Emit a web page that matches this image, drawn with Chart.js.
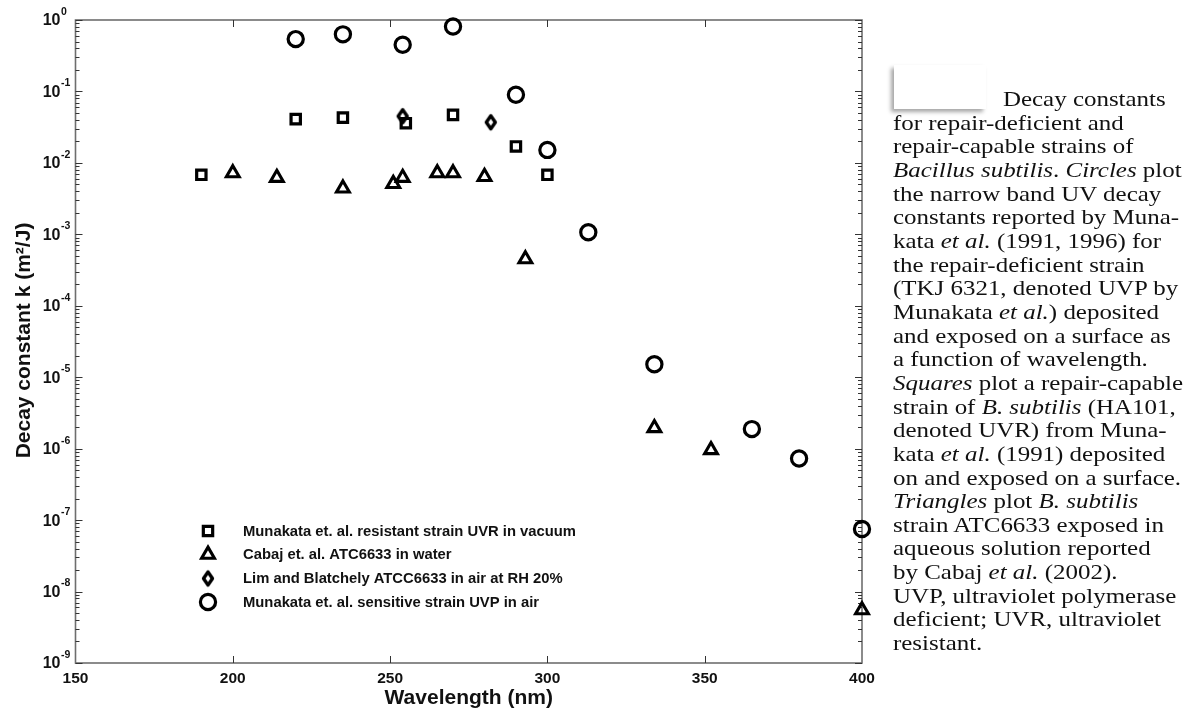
<!DOCTYPE html>
<html><head><meta charset="utf-8">
<script src="https://cdn.jsdelivr.net/npm/chart.js@4.4.0/dist/chart.umd.min.js"></script>
<style>
html,body{margin:0;padding:0;background:#fff;width:1199px;height:713px;overflow:hidden;}
#wrap{position:relative;width:1199px;height:713px;}
#c{position:absolute;left:0;top:0;}
#box{position:absolute;left:894px;top:65px;width:92px;height:44px;background:#fff;box-shadow:-3px 3px 4px rgba(0,0,0,0.35);}
#cap{position:absolute;left:893px;top:88px;font-family:"Liberation Serif","Times New Roman",serif;font-size:21.5px;line-height:23.65px;color:#111;white-space:nowrap;transform-origin:0 0;transform:scaleX(1.16);}
#cap .ind{display:inline-block;width:94.8px;}
</style></head>
<body><div id="wrap">
<canvas id="c" width="1199" height="713"></canvas>
<div id="box"></div>
<div id="cap"><span class="ind"></span>Decay constants<br>for repair-deficient and<br>repair-capable strains of<br><i>Bacillus subtilis</i>. <i>Circles</i> plot<br>the narrow band UV decay<br>constants reported by Muna-<br>kata <i>et al.</i> (1991, 1996) for<br>the repair-deficient strain<br>(TKJ 6321, denoted UVP by<br>Munakata <i>et al.</i>) deposited<br>and exposed on a surface as<br>a function of wavelength.<br><i>Squares</i> plot a repair-capable<br>strain of <i>B. subtilis</i> (HA101,<br>denoted UVR) from Muna-<br>kata <i>et al.</i> (1991) deposited<br>on and exposed on a surface.<br><i>Triangles</i> plot <i>B. subtilis</i><br>strain ATC6633 exposed in<br>aqueous solution reported<br>by Cabaj <i>et al.</i> (2002).<br>UVP, ultraviolet polymerase<br>deficient; UVR, ultraviolet<br>resistant.</div>
</div>
<script>
// ---- data ----
const seriesLabels = [
  'Munakata et. al. resistant strain UVR in vacuum',
  'Cabaj et. al. ATC6633 in water',
  'Lim and Blatchely ATCC6633 in air at RH 20%',
  'Munakata et. al. sensitive strain UVP in air'
];
const wavelengthsUVR = [190, 220, 235, 255, 270, 290, 300];
const decayUVR       = [0.0068, 0.041, 0.043, 0.036, 0.047, 0.017, 0.0068];
const wavelengthsCabaj = [200, 214, 235, 251, 254, 265, 270, 280, 293, 334, 352, 400];
const decayCabaj       = [0.0072, 0.0062, 0.0044, 0.0051, 0.0062, 0.0072, 0.0072, 0.0064, 0.00045, 1.95e-6, 9.6e-7, 5.5e-9];
const wavelengthsLim = [254, 282];
const decayLim       = [0.045, 0.037];
const wavelengthsUVP = [220, 235, 254, 270, 290, 300, 313, 334, 365, 380, 400];
const decayUVP       = [0.54, 0.63, 0.45, 0.81, 0.090, 0.0152, 0.00107, 1.52e-5, 1.88e-6, 7.3e-7, 7.5e-8];
const xTickValues = [150, 200, 250, 300, 350, 400];
const yTickExponents = [0, -1, -2, -3, -4, -5, -6, -7, -8, -9];
const xTitle = 'Wavelength (nm)';
const yTitle = 'Decay constant k (m\u00B2/J)';

// ---- styling helpers ----
function makeDiamond(w, h, lw) {
  const c = document.createElement('canvas');
  c.width = 20; c.height = 24;
  const g = c.getContext('2d');
  g.lineWidth = lw; g.strokeStyle = '#000'; g.fillStyle = 'rgba(0,0,0,0)'; g.lineJoin = 'round';
  const cx = c.width / 2, cy = c.height / 2;
  g.beginPath();
  g.moveTo(cx, cy - h / 2); g.lineTo(cx + w / 2, cy); g.lineTo(cx, cy + h / 2); g.lineTo(cx - w / 2, cy);
  g.closePath(); g.stroke();
  return c;
}
const diamond = makeDiamond(9, 13, 3.4);
const pts = (xs, ys) => xs.map((x, i) => ({x: x, y: ys[i]}));
const styles = [
  {pointStyle: 'rect', radius: 6.6, bw: 3.2},
  {pointStyle: 'triangle', radius: 7.4, bw: 3.1},
  {pointStyle: diamond, radius: 7, bw: 3},
  {pointStyle: 'circle', radius: 7.6, bw: 3.2}
];
const seriesData = [pts(wavelengthsUVR, decayUVR), pts(wavelengthsCabaj, decayCabaj), pts(wavelengthsLim, decayLim), pts(wavelengthsUVP, decayUVP)];

const datasets = seriesData.map((d, i) => ({
  label: seriesLabels[i],
  data: d,
  showLine: false,
  clip: false,
  pointStyle: styles[i].pointStyle,
  pointRadius: styles[i].radius,
  pointHoverRadius: styles[i].radius,
  pointBorderWidth: styles[i].bw,
  borderColor: '#000',
  backgroundColor: 'rgba(0,0,0,0)',
  pointBackgroundColor: 'rgba(0,0,0,0)'
}));

const SANS = '"Liberation Sans", Arial, Helvetica, sans-serif';

const axesPlugin = {
  id: 'axesPlugin',
  beforeDatasetsDraw(chart) {
    const {ctx, chartArea: a, scales: {x, y}} = chart;
    ctx.save();
    // frame
    ctx.strokeStyle = '#6e6e6e'; ctx.lineWidth = 1.6;
    ctx.strokeRect(a.left, a.top, a.right - a.left, a.bottom - a.top);
    // x ticks
    ctx.strokeStyle = '#333'; ctx.lineWidth = 1;
    xTickValues.forEach(v => {
      const px = Math.round(x.getPixelForValue(v)) + 0.5;
      if (v > x.min && v < x.max) {
        ctx.beginPath();
        ctx.moveTo(px, a.bottom); ctx.lineTo(px, a.bottom - 7);
        ctx.moveTo(px, a.top); ctx.lineTo(px, a.top + 7);
        ctx.stroke();
      }
    });
    // y ticks major + minor
    yTickExponents.forEach(e => {
      const py = Math.round(y.getPixelForValue(Math.pow(10, e))) + 0.5;
      ctx.beginPath();
      ctx.moveTo(a.left, py); ctx.lineTo(a.left + 7, py);
      ctx.moveTo(a.right, py); ctx.lineTo(a.right - 7, py);
      ctx.stroke();
      if (e < 0) {
        for (let m = 2; m <= 9; m++) {
          const pm = Math.round(y.getPixelForValue(m * Math.pow(10, e))) + 0.5;
          ctx.beginPath();
          ctx.moveTo(a.left, pm); ctx.lineTo(a.left + 4, pm);
          ctx.moveTo(a.right, pm); ctx.lineTo(a.right - 4, pm);
          ctx.stroke();
        }
      }
    });
    // x tick labels
    ctx.fillStyle = '#111';
    ctx.font = 'bold 15.5px ' + SANS;
    ctx.textAlign = 'center'; ctx.textBaseline = 'middle';
    xTickValues.forEach(v => ctx.fillText(String(v), x.getPixelForValue(v), a.bottom + 16));
    // y tick labels with superscript exponent
    yTickExponents.forEach(e => {
      const py = y.getPixelForValue(Math.pow(10, e));
      ctx.font = 'bold 16px ' + SANS;
      ctx.textAlign = 'right'; ctx.textBaseline = 'middle';
      ctx.fillText('10', a.left - 15, py + 1);
      ctx.font = 'bold 10.5px ' + SANS;
      ctx.textAlign = 'left'; ctx.textBaseline = 'middle';
      ctx.fillText(String(e), a.left - 14.5, py - 8);
    });
    // titles
    ctx.font = 'bold 21px ' + SANS;
    ctx.textAlign = 'center'; ctx.textBaseline = 'middle';
    ctx.fillText(xTitle, (a.left + a.right) / 2, a.bottom + 35);
    ctx.save();
    ctx.translate(24, (a.top + a.bottom) / 2 - 1);
    ctx.rotate(-Math.PI / 2);
    ctx.fillText(yTitle, 0, 0);
    ctx.restore();
    ctx.restore();
  },
  afterDatasetsDraw(chart) {
    const {ctx} = chart;
    const rowsY = [531, 554.5, 578.5, 602];
    ctx.save();
    chart.data.datasets.forEach((ds, i) => {
      const ry = rowsY[i];
      ctx.strokeStyle = '#000'; ctx.fillStyle = 'rgba(0,0,0,0)';
      ctx.lineWidth = ds.pointBorderWidth;
      Chart.helpers.drawPoint(ctx, {pointStyle: ds.pointStyle, radius: ds.pointRadius, rotation: 0, borderWidth: ds.pointBorderWidth}, 208, ry);
      ctx.fillStyle = '#111';
      ctx.font = 'bold 14.8px ' + SANS;
      ctx.textAlign = 'left'; ctx.textBaseline = 'middle';
      ctx.fillText(ds.label, 243, ry + 0.5);
    });
    ctx.restore();
  }
};

new Chart(document.getElementById('c'), {
  type: 'scatter',
  data: {datasets: datasets},
  options: {
    responsive: false,
    animation: false,
    devicePixelRatio: 1,
    layout: {padding: {left: 75.5, top: 20, right: 1199 - 862, bottom: 713 - 663}},
    plugins: {legend: {display: false}, tooltip: {enabled: false}},
    scales: {
      x: {type: 'linear', min: 150, max: 400, display: false},
      y: {type: 'logarithmic', min: 1e-9, max: 1, display: false}
    }
  },
  plugins: [axesPlugin]
});
</script>
</body></html>
